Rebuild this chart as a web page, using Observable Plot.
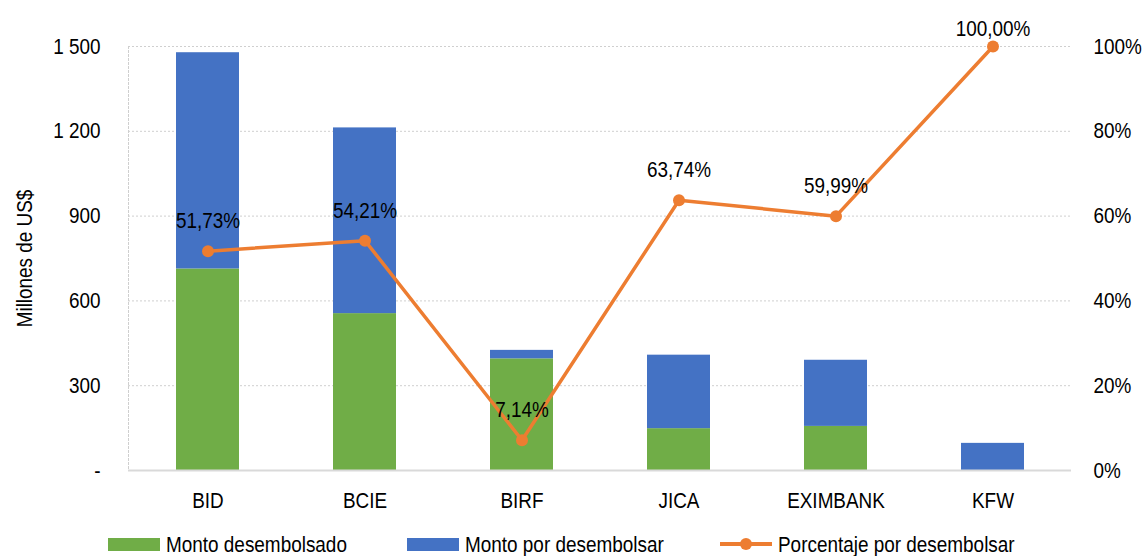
<!DOCTYPE html>
<html>
<head>
<meta charset="utf-8">
<script src="https://cdn.jsdelivr.net/npm/d3@7"></script>
<script src="https://cdn.jsdelivr.net/npm/@observablehq/plot@0.6"></script>
<style>
  body { margin: 0; background: #fff; }
  #wrap { width: 1145px; font-family: "Liberation Sans", Arial, sans-serif; color: #000; }
  #legend { position: relative; width: 1145px; height: 30px; font-size: 22px; line-height: 22px; overflow: hidden; }
  .sw { position: absolute; top: 12px; width: 52px; height: 13px; }
  .lbl { position: absolute; top: 8px; white-space: nowrap; display: inline-block; transform: scaleX(0.86); transform-origin: left center; }
  .ln { position: absolute; top: 16px; width: 52px; height: 4px; }
  .dt { position: absolute; top: 12px; width: 12px; height: 12px; border-radius: 50%; }
</style>
</head>
<body>
<div id="wrap">
  <div id="chart"></div>
  <div id="legend"></div>
</div>
<script>
// ---- Data ----
const bancos = ["BID", "BCIE", "BIRF", "JICA", "EXIMBANK", "KFW"];
const desembolsado = [713, 555, 395, 148, 156, 0];
const porDesembolsar = [765, 657, 30, 260, 234, 96];
const porcentaje = [0.5173, 0.5421, 0.0714, 0.6374, 0.5999, 1.0];
const yTicks = [0, 300, 600, 900, 1200, 1500];
const series = ["Monto desembolsado", "Monto por desembolsar"];
const lineaNombre = "Porcentaje por desembolsar";
const tituloY = "Millones de US$";
const colores = ["#70AD47", "#4472C4"];
const colorLinea = "#ED7D31";

// ---- Tables built from the arrays ----
const valores = [desembolsado, porDesembolsar];
const barras = [];
series.forEach((s, k) => bancos.forEach((b, i) => barras.push({banco: b, serie: s, valor: valores[k][i]})));
const yMax = yTicks[yTicks.length - 1];
const linea = bancos.map((b, i) => ({banco: b, pct: porcentaje[i]}));
const fmtPct = p => d3.format(".2f")(p * 100).replace(".", ",") + "%";
const fmtLeft = d => d === 0 ? "-" : d3.format(",")(d).replace(/,/g, " ");
const fmtRight = d => Math.round(d / yMax * 100) + "%";
const FS = 22;
const narrow = 0.86;

const chart = Plot.plot({
  width: 1145,
  height: 526,
  marginLeft: 128,
  marginRight: 74,
  marginTop: 46,
  marginBottom: 56,
  style: {fontFamily: '"Liberation Sans", Arial, sans-serif', fontSize: FS + "px", color: "#000", background: "#fff"},
  x: {domain: bancos, paddingInner: 0.6, paddingOuter: 0.3, axis: null},
  y: {domain: [0, yMax], axis: null},
  color: {domain: series, range: colores},
  marks: [
    Plot.gridY(yTicks.filter(d => d > 0), {stroke: "#cfcfcf", strokeOpacity: 1, strokeDasharray: "2,2", strokeWidth: 1}),
    Plot.frame({anchor: "left", stroke: "#cfcfcf", strokeDasharray: "2,2"}),
    Plot.barY(barras, {x: "banco", y: "valor", fill: "serie"}),
    Plot.ruleY([0], {stroke: "#d9d9d9", strokeWidth: 2}),
    Plot.line(linea, {x: "banco", y: d => d.pct * yMax, stroke: colorLinea, strokeWidth: 3.5}),
    Plot.dot(linea, {x: "banco", y: d => d.pct * yMax, r: 6, fill: colorLinea}),
    Plot.text(linea.filter(d => d.pct < 0.9), {x: "banco", y: d => d.pct * yMax, text: d => fmtPct(d.pct), dy: -30, fontSize: FS, fill: "#000"}),
    Plot.text(linea.filter(d => d.pct >= 0.9), {x: "banco", y: d => d.pct * yMax, text: d => fmtPct(d.pct), dy: -18, fontSize: FS, fill: "#000"}),
    Plot.axisY(yTicks, {anchor: "left", tickSize: 0, tickPadding: 28, tickFormat: fmtLeft, label: null, fontSize: FS}),
    Plot.axisY(yTicks, {anchor: "right", tickSize: 0, tickPadding: 22, tickFormat: fmtRight, label: null, fontSize: FS}),
    Plot.axisX({tickSize: 0, tickPadding: 22, label: null, fontSize: FS}),
    Plot.text([tituloY], {frameAnchor: "left", textAnchor: "middle", lineAnchor: "middle", dx: -104, rotate: -90, fontSize: FS, fill: "#000"})
  ]
});
document.getElementById("chart").append(chart);

// Condense the glyphs horizontally around each text's anchor point (narrow sans look of the original)
chart.querySelectorAll("text").forEach(t => {
  const x = +(t.getAttribute("x") || 0);
  const tr = t.getAttribute("transform") || "";
  t.setAttribute("transform", `${tr} translate(${x},0) scale(${narrow},1) translate(${-x},0)`.trim());
});

// ---- Legend (HTML, below the SVG) ----
const legend = document.getElementById("legend");
const items = [
  {type: "sw", color: colores[0], label: series[0], x: 108},
  {type: "sw", color: colores[1], label: series[1], x: 407},
  {type: "line", color: colorLinea, label: lineaNombre, x: 720}
];
for (const it of items) {
  if (it.type === "sw") {
    const s = document.createElement("div");
    s.className = "sw"; s.style.left = it.x + "px"; s.style.background = it.color;
    legend.append(s);
  } else {
    const l = document.createElement("div");
    l.className = "ln"; l.style.left = it.x + "px"; l.style.background = it.color;
    const d = document.createElement("div");
    d.className = "dt"; d.style.left = (it.x + 20) + "px"; d.style.background = it.color;
    legend.append(l, d);
  }
  const t = document.createElement("span");
  t.className = "lbl"; t.style.left = (it.x + 58) + "px"; t.textContent = it.label;
  legend.append(t);
}
</script>
</body>
</html>
